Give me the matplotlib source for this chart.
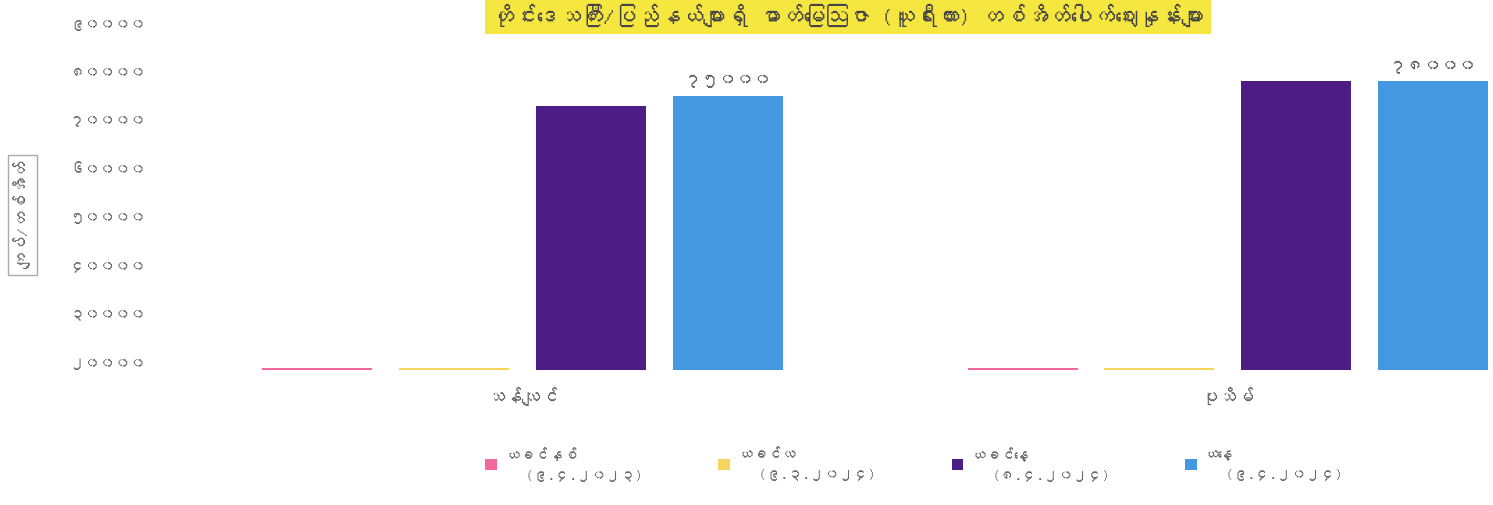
import matplotlib
matplotlib.use('Agg')
import matplotlib.pyplot as plt
from matplotlib import font_manager
from matplotlib.ft2font import FT2Font
from matplotlib.patches import Patch
from matplotlib.ticker import FuncFormatter
import numpy as np

# Data
categories = ['သန်လျင်', 'ပုသိမ်']
series_names = ['ယခင်နှစ်\n   (၉.၄.၂၀၂၃)', 'ယခင်လ\n   (၉.၃.၂၀၂၄)',
                'ယခင်နေ့\n   (၈.၄.၂၀၂၄)', 'ယနေ့\n   (၉.၄.၂၀၂၄)']
prev_year = [18750, 18750]
prev_month = [18750, 18750]
prev_day = [73000, 78000]
today = [75000, 78000]
y_ticks = [20000, 30000, 40000, 50000, 60000, 70000, 80000, 90000]

colors = ['#f2679d', '#f9d45c', '#4d1d86', '#4398e0']
title = 'တိုင်းဒေသကြီး/ပြည်နယ်များရှိ ဓာတ်မြေဩဇာ (ယူရီးယား) တစ်အိတ်ပေါက်ဈေးနှုန်းများ'
ylabel = 'ကျပ်/တစ်အိတ်'

MM_DIGITS = str.maketrans('0123456789', '၀၁၂၃၄၅၆၇၈၉')


def to_mm(n):
    return str(int(n)).translate(MM_DIGITS)


def find_myanmar_font():
    # look for any installed font that has Myanmar glyphs
    for f in font_manager.fontManager.ttflist:
        try:
            cmap = FT2Font(f.fname).get_charmap()
        except Exception:
            continue
        if 0x1000 in cmap and 0x1031 in cmap:
            return f.name
    return None


mm_font = find_myanmar_font()
families = ([mm_font] if mm_font else []) + ['Noto Sans', 'DejaVu Sans']
plt.rcParams['font.family'] = families

fig = plt.figure(figsize=(14.93, 5.05), dpi=100)
ax = fig.add_axes([0.12, 0.267, 0.878, 0.713])

y_min, y_max = 18350, 92700
x = np.arange(len(categories))
step = 0.194
width = 0.156
all_series = [prev_year, prev_month, prev_day, today]
for i, vals in enumerate(all_series):
    heights = np.array(vals) - y_min
    ax.bar(x + (i - 1.5) * step, heights, width, bottom=y_min, color=colors[i],
           linewidth=0)

# value labels over today's bars
for xi, v in zip(x, today):
    ax.text(xi + 1.5 * step, v + 1800, to_mm(v), ha='center', va='bottom',
            fontsize=12.5, color='#555555')

ax.set_xlim(-0.487, 1.372)
ax.set_ylim(y_min, y_max)
ax.set_yticks(y_ticks)
ax.yaxis.set_major_formatter(FuncFormatter(lambda v, p: to_mm(v)))
ax.set_xticks(x)
ax.set_xticklabels(categories)
ax.tick_params(axis='y', length=0, pad=24, labelsize=11, labelcolor='#666666')
ax.tick_params(axis='x', length=0, pad=12, labelsize=13, labelcolor='#666666')
for s in ax.spines.values():
    s.set_visible(False)

fig.text(0.568, 0.992, title, ha='center', va='top', fontsize=16, color='#444444',
         bbox=dict(boxstyle='square,pad=0.3', facecolor='#f6e640', edgecolor='none'))

fig.text(0.015, 0.575, ylabel, rotation=90, ha='center', va='center', fontsize=12,
         color='#666666',
         bbox=dict(boxstyle='square,pad=0.35', facecolor='none', edgecolor='#aaaaaa'))

handles = [Patch(facecolor=c, edgecolor='none') for c in colors]
leg = fig.legend(handles, series_names, loc='center', bbox_to_anchor=(0.612, 0.08), ncol=4,
                 frameon=False, fontsize=10.5, labelcolor='#666666', handlelength=0.8,
                 handleheight=0.8, columnspacing=5.2, handletextpad=0.5)
for t in leg.get_texts():
    t.set_linespacing(1.7)

fig.savefig('out.png', dpi=100)
